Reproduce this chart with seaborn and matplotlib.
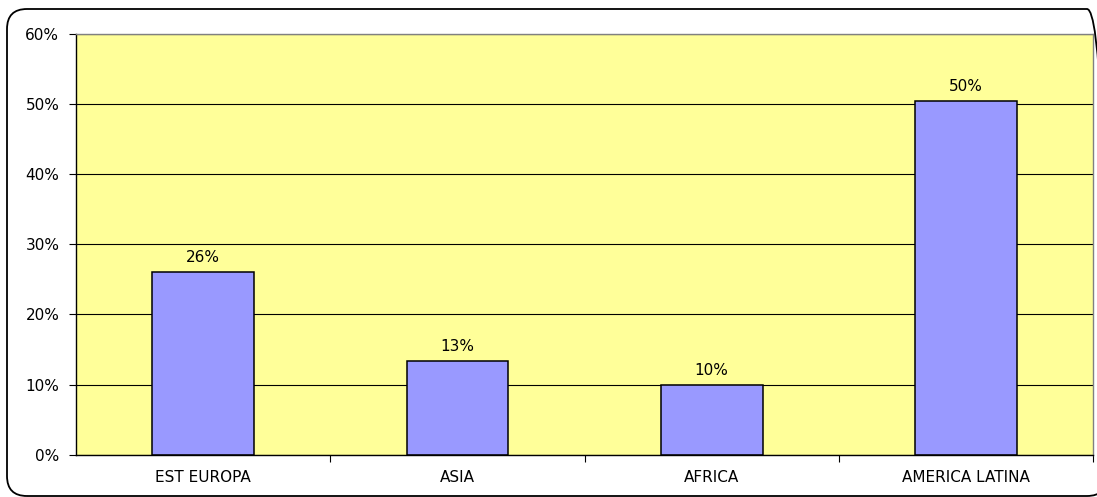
import matplotlib
matplotlib.use("Agg")
import matplotlib.pyplot as plt
from matplotlib.patches import FancyBboxPatch
from matplotlib.ticker import PercentFormatter, FixedLocator
import seaborn as sns
import pandas as pd

regions = ["EST EUROPA", "ASIA", "AFRICA", "AMERICA LATINA"]
shares = [0.26, 0.134, 0.10, 0.504]
y_ticks = [0.0, 0.1, 0.2, 0.3, 0.4, 0.5, 0.6]

sns.set_theme(style="white")
plt.rcParams["font.family"] = ["DejaVu Sans"]
plt.rcParams["text.color"] = "black"
plt.rcParams["xtick.color"] = "black"
plt.rcParams["ytick.color"] = "black"

FS = 11

df = pd.DataFrame({"region": regions, "share": shares})

fig = plt.figure(figsize=(10.97, 4.97), dpi=100)
ax = fig.add_axes([0.0693, 0.0851, 0.9271, 0.8465])
ax.set_facecolor("#FFFF99")

# rounded frame around the whole chart (sizes in inches)
frame = FancyBboxPatch((0.07, 0.01), 11.0, 4.87,
                       boxstyle="round,pad=0,rounding_size=0.2",
                       transform=fig.dpi_scale_trans, facecolor="none",
                       edgecolor="black", linewidth=1.3, clip_on=False)
fig.patches.append(frame)

ax.set_axisbelow(True)
ax.yaxis.grid(True, color="black", linewidth=0.8)
ax.xaxis.grid(False)

sns.barplot(data=df, x="region", y="share", color="#9999FF", saturation=1,
            edgecolor="black", linewidth=1.1, width=0.4, ax=ax)

for i, v in enumerate(shares):
    ax.annotate(f"{v:.0%}", (i, v), xytext=(0, 5), textcoords="offset points",
                ha="center", va="bottom", fontsize=FS, color="black")

ax.set_xlim(-0.5, len(regions) - 0.5)
ax.set_ylim(0, 0.6)
ax.set_yticks(y_ticks)
ax.yaxis.set_major_formatter(PercentFormatter(1.0, decimals=0))
ax.set_xlabel("")
ax.set_ylabel("")

ax.tick_params(axis="y", which="major", direction="out", length=5, width=0.8,
               color="black", labelcolor="black", labelsize=FS, pad=7, left=True)
ax.tick_params(axis="x", which="major", length=0, labelsize=FS, pad=11,
               labelcolor="black")
ax.xaxis.set_minor_locator(FixedLocator([0.5, 1.5, 2.5, 3.5]))
ax.tick_params(axis="x", which="minor", direction="out", length=5, width=0.8,
               color="black", bottom=True)

for side in ["left", "bottom"]:
    ax.spines[side].set_color("black")
    ax.spines[side].set_linewidth(1.0)
for side in ["top", "right"]:
    ax.spines[side].set_color("#808080")
    ax.spines[side].set_linewidth(1.0)

fig.savefig("out.png", dpi=100)
